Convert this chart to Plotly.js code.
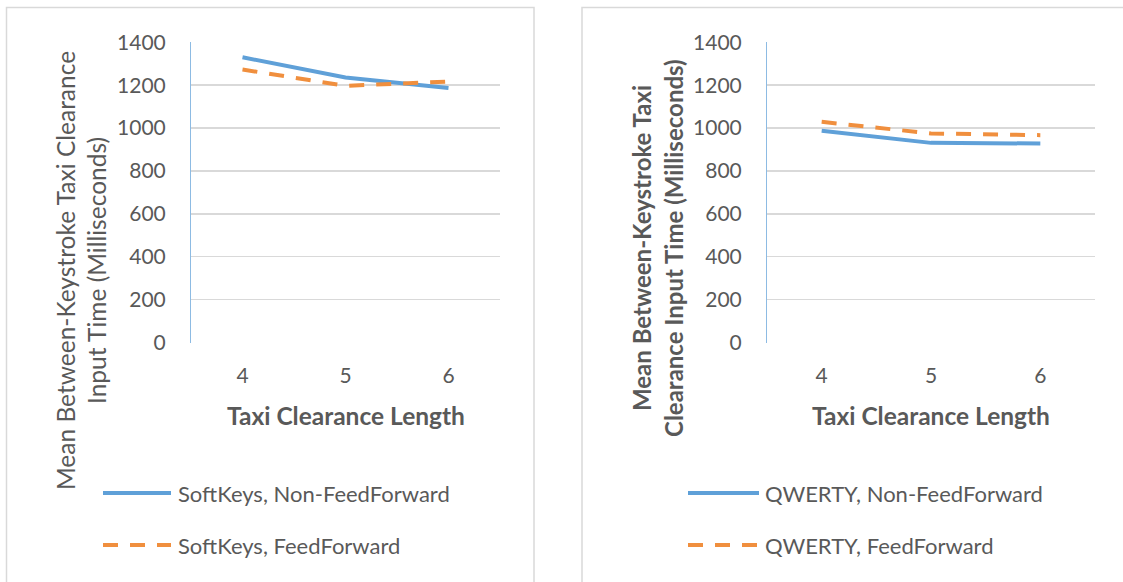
<!DOCTYPE html>
<html>
<head>
<meta charset="utf-8">
<script src="https://cdn.plot.ly/plotly-3.0.1.min.js"></script>
<style>
  html, body { margin: 0; padding: 0; background: #ffffff; }
  #chart { width: 1123px; height: 582px; }
</style>
</head>
<body>
<div id="chart"></div>
<script>
// Taxi clearance length (number of items in the clearance)
const categories = [4, 5, 6];
const tickLabels = ['4', '5', '6'];
const yTicks = [0, 200, 400, 600, 800, 1000, 1200, 1400];

// Mean between-keystroke input time, milliseconds
const softKeysNonFF = [1330, 1236, 1187];
const softKeysFF = [1273, 1197, 1217];
const qwertyNonFF = [987, 931, 928];
const qwertyFF = [1029, 975, 967];

const leftNames = ['SoftKeys, Non-FeedForward', 'SoftKeys, FeedForward'];
const rightNames = ['QWERTY, Non-FeedForward', 'QWERTY, FeedForward'];

const xTitle = 'Taxi Clearance Length';
const leftYTitle = ['Mean Between-Keystroke Taxi Clearance', 'Input Time (Milliseconds)'];
const rightYTitle = ['Mean Between-Keystroke Taxi', 'Clearance Input Time (Milliseconds)'];

const W = 1123, H = 582;
const px = v => v / W;          // pixel -> paper x
const py = v => 1 - v / H;      // pixel -> paper y

const BLUE = '#5fa0d8';
const ORANGE = '#f08f3e';
const TEXT = '#595959';
const GRID = '#d9d9d9';
const FONT = 'Lato, "Open Sans", sans-serif';
const DASH = '15px,12px';

function series(x, y, name, color, dash, xa, ya) {
  return {
    x: x, y: y, name: name, type: 'scatter', mode: 'lines',
    line: { color: color, width: 4, dash: dash, shape: 'linear' },
    xaxis: xa, yaxis: ya, hoverinfo: 'skip'
  };
}

const data = [
  series(categories, softKeysNonFF, leftNames[0], BLUE, 'solid', 'x', 'y'),
  series(categories, softKeysFF, leftNames[1], ORANGE, DASH, 'x', 'y'),
  series(categories, qwertyNonFF, rightNames[0], BLUE, 'solid', 'x2', 'y2'),
  series(categories, qwertyFF, rightNames[1], ORANGE, DASH, 'x2', 'y2')
];

function xAxis(domain, anchor) {
  return {
    domain: domain, anchor: anchor, range: [3.5, 6.5],
    tickmode: 'array', tickvals: categories, ticktext: tickLabels,
    showgrid: false, zeroline: false, showline: false, ticks: '',
    ticklabelstandoff: 18,
    tickfont: { family: FONT, size: 21, color: TEXT },
    fixedrange: true
  };
}
function yAxis(domain, anchor) {
  return {
    domain: domain, anchor: anchor, range: [0, 1400],
    tickmode: 'array', tickvals: yTicks,
    showgrid: true, gridcolor: GRID, gridwidth: 1.5,
    zeroline: false, showline: true, linecolor: '#8dbbe3', linewidth: 1,
    ticks: '', ticklabelstandoff: 20,
    tickfont: { family: FONT, size: 21, color: TEXT },
    fixedrange: true
  };
}

const plotTop = py(42.3), plotBottom = py(342.5);

const annotations = [];
const shapes = [];

function addText(text, x, y, opts) {
  annotations.push(Object.assign({
    text: text, xref: 'paper', yref: 'paper', x: px(x), y: py(y),
    xanchor: 'center', yanchor: 'middle', showarrow: false,
    font: { family: FONT, size: 22, color: TEXT }
  }, opts || {}));
}

// axis titles
const titleFont = { family: FONT, size: 24.5, color: TEXT };
addText('<b>' + xTitle + '</b>', 345.5, 415, { font: titleFont });
addText('<b>' + xTitle + '</b>', 931, 415, { font: titleFont });
addText(leftYTitle[0], 65, 271, { textangle: -90, font: titleFont });
addText(leftYTitle[1], 96, 271, { textangle: -90, font: titleFont });
addText('<b>' + rightYTitle[0] + '</b>', 641, 248, { textangle: -90, font: { family: FONT, size: 24, color: TEXT } });
addText('<b>' + rightYTitle[1] + '</b>', 673, 248, { textangle: -90, font: { family: FONT, size: 24, color: TEXT } });

// legends
function legendEntry(name, color, dash, x0, x1, tx, y) {
  shapes.push({
    type: 'line', xref: 'paper', yref: 'paper',
    x0: px(x0), x1: px(x1), y0: py(y), y1: py(y),
    line: { color: color, width: 4, dash: dash }
  });
  addText(name, tx, y, { xanchor: 'left' });
}
legendEntry(leftNames[0], BLUE, 'solid', 103, 171, 176, 493);
legendEntry(leftNames[1], ORANGE, DASH, 103, 171, 176, 545);
legendEntry(rightNames[0], BLUE, 'solid', 688, 759, 763, 493);
legendEntry(rightNames[1], ORANGE, DASH, 688, 759, 763, 545);

// chart frames
shapes.push({
  type: 'rect', xref: 'paper', yref: 'paper', layer: 'below',
  x0: px(6.5), x1: px(534), y0: py(600), y1: py(7.5),
  line: { color: GRID, width: 1.5 }, fillcolor: 'rgba(0,0,0,0)'
});
shapes.push({
  type: 'rect', xref: 'paper', yref: 'paper', layer: 'below',
  x0: px(582), x1: px(1140), y0: py(600), y1: py(7.5),
  line: { color: GRID, width: 1.5 }, fillcolor: 'rgba(0,0,0,0)'
});

const layout = {
  width: W, height: H,
  margin: { l: 0, r: 0, t: 0, b: 0, pad: 0 },
  paper_bgcolor: '#ffffff', plot_bgcolor: '#ffffff',
  showlegend: false,
  xaxis: xAxis([px(191), px(500)], 'y'),
  yaxis: yAxis([plotBottom, plotTop], 'x'),
  xaxis2: xAxis([px(767), px(1095)], 'y2'),
  yaxis2: yAxis([plotBottom, plotTop], 'x2'),
  annotations: annotations,
  shapes: shapes
};

Plotly.newPlot('chart', data, layout, { staticPlot: true, displayModeBar: false });
</script>
</body>
</html>
